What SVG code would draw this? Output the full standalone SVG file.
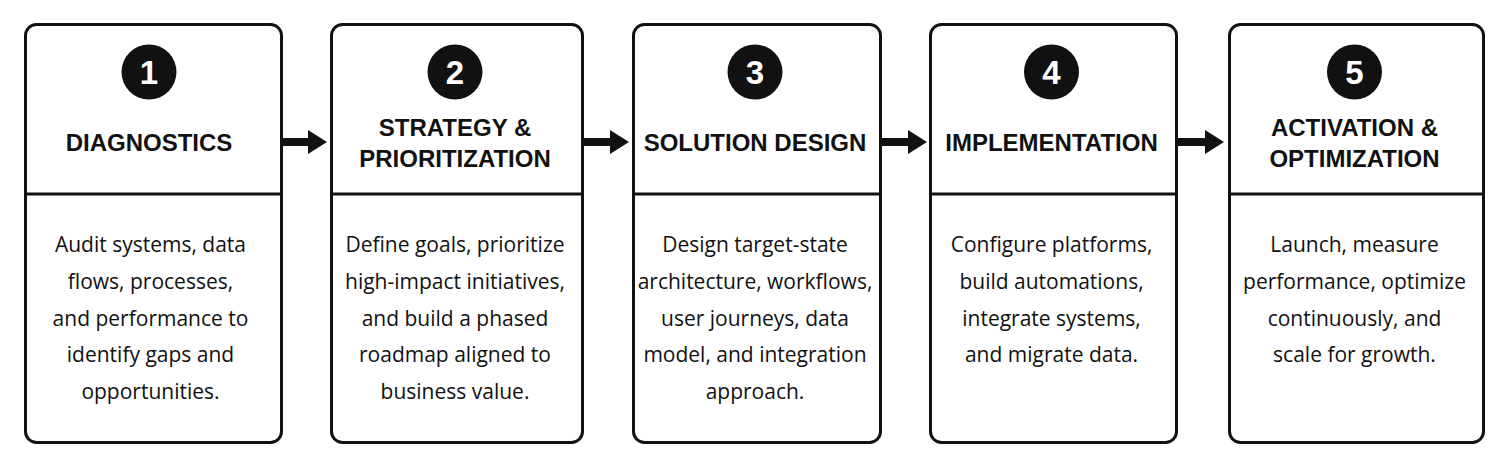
<svg xmlns="http://www.w3.org/2000/svg" width="1511" height="467" viewBox="0 0 1511 467">
<defs>
<style>
.box{fill:#ffffff;stroke:#111111;stroke-width:3}
.div{stroke:#111111;stroke-width:3}
.num{fill:#111111}
.numt{font-family:"Liberation Sans",Arial,sans-serif;font-weight:bold;font-size:33px;fill:#ffffff;text-anchor:middle}
.title{font-family:"Liberation Sans",Arial,sans-serif;font-weight:bold;font-size:24px;fill:#111111;text-anchor:middle}
.body{font-family:"Open Sans","Noto Sans",sans-serif;font-size:21px;fill:#111111;text-anchor:middle}
.arr{fill:#111111}
</style>
</defs>
<rect width="1511" height="467" fill="#ffffff"/>
<g id="connectors">
<path class="arr" d="M283 138 H308 V130 L327 142 L308 154 V146 H283 Z"/>
<path class="arr" d="M584 138 H610 V130 L629 142 L610 154 V146 H584 Z"/>
<path class="arr" d="M882 138 H908 V130 L927 142 L908 154 V146 H882 Z"/>
<path class="arr" d="M1178 138 H1205 V130 L1224 142 L1205 154 V146 H1178 Z"/>
</g>
<g id="node1">
<rect class="box" x="25.5" y="24.5" width="256" height="418" rx="11"/>
<line class="div" x1="25.5" y1="194" x2="281.5" y2="194"/>
<circle class="num" cx="149" cy="72" r="27.5"/>
<text class="numt" x="149" y="84">1</text>
<text class="title" x="149" y="151">DIAGNOSTICS</text>
<text class="body" x="150.5"><tspan x="150.5" y="252">Audit systems, data</tspan><tspan x="150.5" y="288.75">flows, processes,</tspan><tspan x="150.5" y="325.5">and performance to</tspan><tspan x="150.5" y="362.25">identify gaps and</tspan><tspan x="150.5" y="399">opportunities.</tspan></text>
</g>
<g id="node2">
<rect class="box" x="331.5" y="24.5" width="251" height="418" rx="11"/>
<line class="div" x1="331.5" y1="194" x2="582.5" y2="194"/>
<circle class="num" cx="455" cy="72" r="27.5"/>
<text class="numt" x="455" y="84">2</text>
<text class="title" x="455" y="136">STRATEGY &amp;</text>
<text class="title" x="455" y="167">PRIORITIZATION</text>
<text class="body" x="455"><tspan x="455" y="252">Define goals, prioritize</tspan><tspan x="455" y="288.75">high-impact initiatives,</tspan><tspan x="455" y="325.5">and build a phased</tspan><tspan x="455" y="362.25">roadmap aligned to</tspan><tspan x="455" y="399">business value.</tspan></text>
</g>
<g id="node3">
<rect class="box" x="633.5" y="24.5" width="247" height="418" rx="11"/>
<line class="div" x1="633.5" y1="194" x2="880.5" y2="194"/>
<circle class="num" cx="755" cy="72" r="27.5"/>
<text class="numt" x="755" y="84">3</text>
<text class="title" x="755" y="151">SOLUTION DESIGN</text>
<text class="body" x="755"><tspan x="755" y="252">Design target-state</tspan><tspan x="755" y="288.75">architecture, workflows,</tspan><tspan x="755" y="325.5">user journeys, data</tspan><tspan x="755" y="362.25">model, and integration</tspan><tspan x="755" y="399">approach.</tspan></text>
</g>
<g id="node4">
<rect class="box" x="930.5" y="24.5" width="246" height="418" rx="11"/>
<line class="div" x1="930.5" y1="194" x2="1176.5" y2="194"/>
<circle class="num" cx="1051.5" cy="72" r="27.5"/>
<text class="numt" x="1051.5" y="84">4</text>
<text class="title" x="1051.5" y="151">IMPLEMENTATION</text>
<text class="body" x="1051.5"><tspan x="1051.5" y="252">Configure platforms,</tspan><tspan x="1051.5" y="288.75">build automations,</tspan><tspan x="1051.5" y="325.5">integrate systems,</tspan><tspan x="1051.5" y="362.25">and migrate data.</tspan></text>
</g>
<g id="node5">
<rect class="box" x="1229.5" y="24.5" width="254" height="418" rx="11"/>
<line class="div" x1="1229.5" y1="194" x2="1483.5" y2="194"/>
<circle class="num" cx="1354.5" cy="72" r="27.5"/>
<text class="numt" x="1354.5" y="84">5</text>
<text class="title" x="1354.5" y="136">ACTIVATION &amp;</text>
<text class="title" x="1354.5" y="167">OPTIMIZATION</text>
<text class="body" x="1354.5"><tspan x="1354.5" y="252">Launch, measure</tspan><tspan x="1354.5" y="288.75">performance, optimize</tspan><tspan x="1354.5" y="325.5">continuously, and</tspan><tspan x="1354.5" y="362.25">scale for growth.</tspan></text>
</g>
</svg>
